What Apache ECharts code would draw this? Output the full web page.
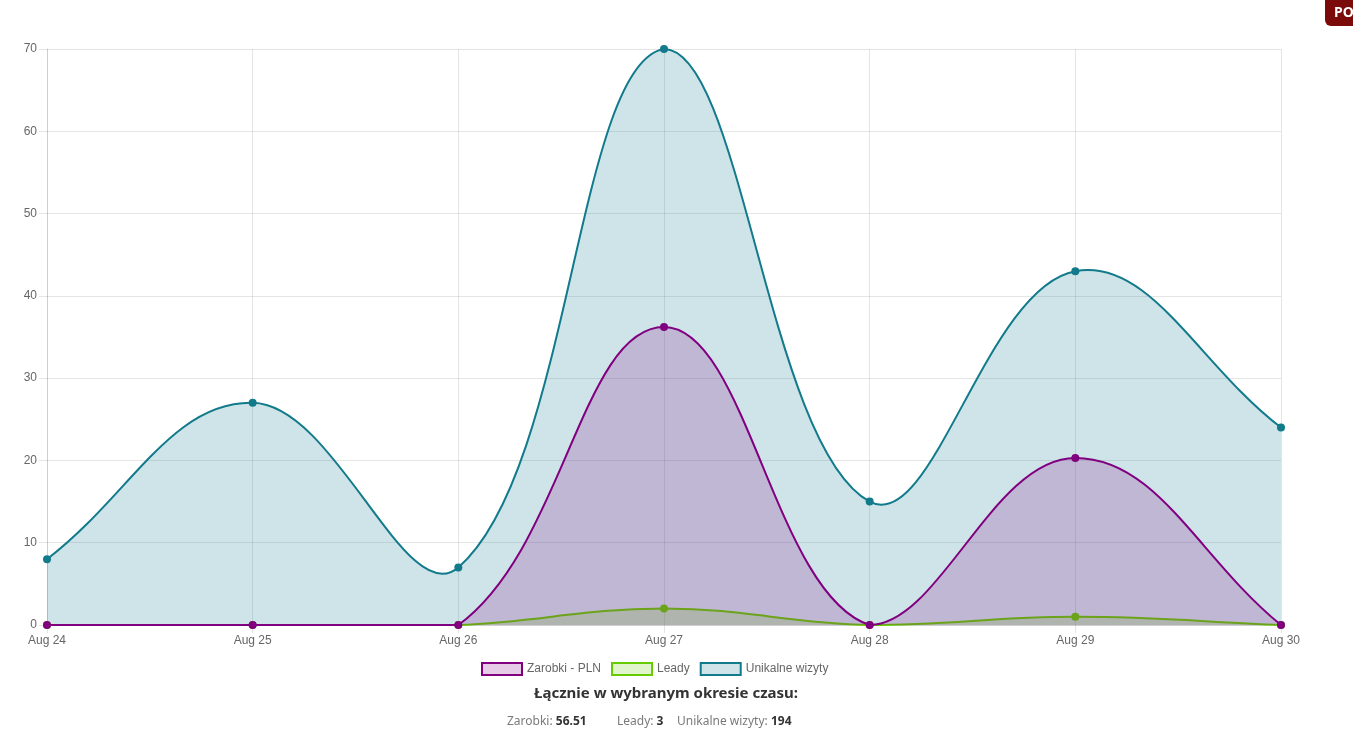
<!DOCTYPE html>
<html><head><meta charset="utf-8">
<script src="https://cdn.jsdelivr.net/npm/echarts@6/dist/echarts.min.js"></script>
<style>html,body{margin:0;padding:0;background:#fff}#c{width:1353px;height:754px}</style>
</head><body><div id="c"></div>
<script>
const categories = ['Aug 24','Aug 25','Aug 26','Aug 27','Aug 28','Aug 29','Aug 30'];
const zarobki = [0, 0, 0, 36.21, 0, 20.30, 0];
const leady = [0, 0, 0, 2, 0, 1, 0];
const wizyty = [8, 27, 7, 70, 15, 43, 24];
const seriesNames = ['Zarobki - PLN', 'Leady', 'Unikalne wizyty'];
const totalsLabel = 'Łącznie w wybranym okresie czasu:';
const totals = { zarobki: '56.51', leady: '3', wizyty: '194' };

const font = 'Arial, "Liberation Sans", Helvetica, sans-serif';
const TENSION = 0.4;
const chart = echarts.init(document.getElementById('c'));

// Cardinal-like spline (tension 0.4) with control points capped to the plot area
function buildPath(pts, rect) {
  const n = pts.length;
  const cps = pts.map((p, i) => {
    const prev = pts[i - 1] || p, next = pts[i + 1] || p;
    const d01 = Math.hypot(p[0] - prev[0], p[1] - prev[1]);
    const d12 = Math.hypot(next[0] - p[0], next[1] - p[1]);
    let s01 = d01 / (d01 + d12), s12 = d12 / (d01 + d12);
    if (isNaN(s01)) s01 = 0; if (isNaN(s12)) s12 = 0;
    const fa = TENSION * s01, fb = TENSION * s12;
    const cap = (x, y) => [Math.min(Math.max(x, rect.x), rect.x + rect.width),
                           Math.min(Math.max(y, rect.y), rect.y + rect.height)];
    return {
      prev: cap(p[0] - fa * (next[0] - prev[0]), p[1] - fa * (next[1] - prev[1])),
      next: cap(p[0] + fb * (next[0] - prev[0]), p[1] + fb * (next[1] - prev[1]))
    };
  });
  let d = 'M' + pts[0][0] + ' ' + pts[0][1];
  for (let i = 1; i < n; i++) {
    const a = cps[i - 1].next, b = cps[i].prev, p = pts[i];
    d += ' C' + a[0] + ' ' + a[1] + ' ' + b[0] + ' ' + b[1] + ' ' + p[0] + ' ' + p[1];
  }
  return d;
}

function mk(name, values, color, fill) {
  return {
    name, type: 'custom', clip: false,
    data: values.map((v, i) => [i, v]),
    itemStyle: { color: fill, borderColor: color },
    renderItem: function (params, api) {
      const idx = params.dataIndex;
      const rect = params.coordSys;
      const children = [];
      if (idx === 0) {
        const pts = values.map((v, i) => api.coord([i, v]));
        const base = api.coord([0, 0])[1];
        const curve = buildPath(pts, rect);
        const area = curve + ' L' + pts[pts.length - 1][0] + ' ' + base + ' L' + pts[0][0] + ' ' + base + ' Z';
        children.push({ type: 'path', shape: { pathData: area }, style: { fill: fill, stroke: null } });
        children.push({ type: 'path', shape: { pathData: curve }, style: { fill: null, stroke: color, lineWidth: 2 } });
      }
      const c = api.coord([api.value(0), api.value(1)]);
      children.push({ type: 'circle', shape: { cx: c[0], cy: c[1], r: 4 }, style: { fill: color } });
      return { type: 'group', children };
    }
  };
}

chart.setOption({
  animation: false,
  grid: { left: 47, right: 72, top: 49, bottom: 129, containLabel: false },
  legend: {
    top: 657, left: 476,
    itemWidth: 40, itemHeight: 12, itemGap: 10,
    icon: 'rect',
    textStyle: { color: '#666', fontSize: 12, fontFamily: font },
    data: [
      { name: seriesNames[0], itemStyle: { color: 'rgba(128,0,128,0.2)', borderColor: '#800080', borderWidth: 2 } },
      { name: seriesNames[1], itemStyle: { color: 'rgba(102,204,0,0.2)', borderColor: '#66cc00', borderWidth: 2 } },
      { name: seriesNames[2], itemStyle: { color: 'rgba(17,122,139,0.2)', borderColor: '#117a8b', borderWidth: 2 } }
    ]
  },
  xAxis: {
    type: 'category', data: categories, boundaryGap: false,
    axisLine: { lineStyle: { color: 'rgba(0,0,0,0.1)' } },
    axisTick: { show: true, length: 8, lineStyle: { color: 'rgba(0,0,0,0.1)' } },
    axisLabel: { color: '#666', fontSize: 12, fontFamily: font, margin: 10 },
    splitLine: { show: true, lineStyle: { color: 'rgba(0,0,0,0.1)' } }
  },
  yAxis: {
    type: 'value', min: 0, max: 70, interval: 10,
    axisLine: { show: true, lineStyle: { color: 'rgba(0,0,0,0.1)' } },
    axisTick: { show: true, length: 8, lineStyle: { color: 'rgba(0,0,0,0.1)' } },
    axisLabel: { color: '#666', fontSize: 12, fontFamily: font, margin: 10 },
    splitLine: { show: true, lineStyle: { color: 'rgba(0,0,0,0.1)' } }
  },
  series: [
    mk(seriesNames[2], wizyty, '#117a8b', 'rgba(17,122,139,0.2)'),
    mk(seriesNames[1], leady, '#66cc00', 'rgba(102,204,0,0.2)'),
    mk(seriesNames[0], zarobki, '#800080', 'rgba(128,0,128,0.2)')
  ],
  graphic: [
    { type: 'text', x: 666, y: 694,
      style: { text: totalsLabel, fill: '#333', font: 'bold 15px "Noto Sans", sans-serif', align: 'center', verticalAlign: 'middle' } },
    { type: 'text', x: 507, y: 722,
      style: { text: '{n|Zarobki: }{b|' + totals.zarobki + '}', verticalAlign: 'middle',
        rich: { n: { fill: '#7a7a7a', fontSize: 12, fontFamily: '"Noto Sans", sans-serif' },
                b: { fill: '#333', fontSize: 12, fontWeight: 'bold', fontFamily: '"Noto Sans", sans-serif' } } } },
    { type: 'text', x: 617, y: 722,
      style: { text: '{n|Leady: }{b|' + totals.leady + '}', verticalAlign: 'middle',
        rich: { n: { fill: '#7a7a7a', fontSize: 12, fontFamily: '"Noto Sans", sans-serif' },
                b: { fill: '#333', fontSize: 12, fontWeight: 'bold', fontFamily: '"Noto Sans", sans-serif' } } } },
    { type: 'text', x: 677, y: 722,
      style: { text: '{n|Unikalne wizyty: }{b|' + totals.wizyty + '}', verticalAlign: 'middle',
        rich: { n: { fill: '#7a7a7a', fontSize: 12, fontFamily: '"Noto Sans", sans-serif' },
                b: { fill: '#333', fontSize: 12, fontWeight: 'bold', fontFamily: '"Noto Sans", sans-serif' } } } },
    { type: 'rect', shape: { x: 1325, y: -6, width: 40, height: 32, r: 6 }, style: { fill: '#7b0b0b' } },
    { type: 'text', x: 1334, y: 13, style: { text: 'PO', fill: '#fff', font: 'bold 14px "Noto Sans", sans-serif', verticalAlign: 'middle' } }
  ]
});
</script></body></html>
